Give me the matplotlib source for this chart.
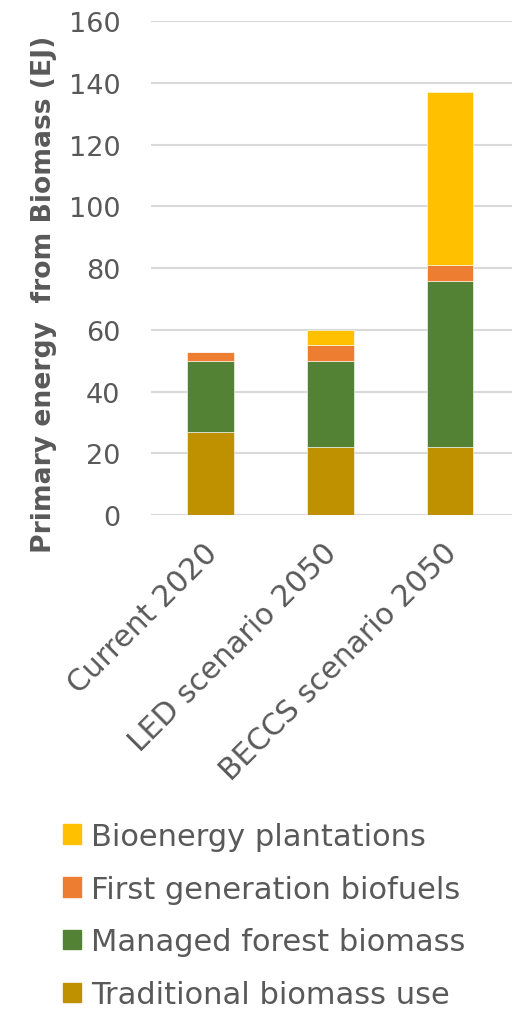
import matplotlib.pyplot as plt
import matplotlib.transforms as mtransforms
import numpy as np
from matplotlib.patches import Patch

# stacked primary energy from biomass, EJ
scenarios = ["Current 2020", "LED scenario 2050", "BECCS scenario 2050"]
traditional = [27, 22, 22]
managed_forest = [23, 28, 54]
first_gen = [3, 5, 5]
plantations = [0, 5, 56]

series_names = ["Traditional biomass use", "Managed forest biomass",
                "First generation biofuels", "Bioenergy plantations"]
series_colors = ["#BF9000", "#548235", "#ED7D31", "#FFC000"]
yticks = [0, 20, 40, 60, 80, 100, 120, 140, 160]

grey = "#595959"
plt.rcParams["font.family"] = ["DejaVu Sans"]

fig = plt.figure(figsize=(5.12, 10.12), dpi=100)
ax = fig.add_axes([0.295, 0.490, 0.705, 0.488])

x = np.arange(len(scenarios))
bottom = np.zeros(len(scenarios))
for vals, name, col in zip([traditional, managed_forest, first_gen, plantations],
                           series_names, series_colors):
    ax.bar(x, vals, width=0.39, bottom=bottom, color=col, label=name,
           edgecolor="white", linewidth=0.4, zorder=3)
    bottom += np.array(vals)

ax.set_ylim(0, 160)
ax.set_xlim(-0.5, 2.52)
ax.set_yticks(yticks)
ax.set_yticklabels([str(v) for v in yticks], fontsize=19.5, color=grey)
ax.set_xticks(x)
ax.set_xticklabels(scenarios, rotation=45, ha="right", rotation_mode="anchor",
                   fontsize=21.5, color=grey)
ax.tick_params(length=0)
ax.tick_params(axis="x", pad=16)
ax.tick_params(axis="y", pad=22)
ax.grid(axis="y", color="#D9D9D9", linewidth=1.5, zorder=0)
for s in ax.spines.values():
    s.set_visible(False)

# nudge the slanted category labels a little to the left
shift = mtransforms.ScaledTranslation(-8 / 100, 0, fig.dpi_scale_trans)
for lbl in ax.get_xticklabels():
    lbl.set_transform(lbl.get_transform() + shift)

fig.text(0.086, 0.709, "Primary energy  from Biomass (EJ)", rotation=90,
         ha="center", va="center", fontsize=19.2, fontweight="bold", color=grey)

handles = [Patch(color=c) for c in series_colors][::-1]
labels = series_names[::-1]
fig.legend(handles, labels, loc="upper left", bbox_to_anchor=(0.123, 0.187),
           frameon=False, fontsize=22, labelcolor=grey, handlelength=0.6,
           handleheight=0.6, handletextpad=0.32, labelspacing=0.78,
           borderpad=0, borderaxespad=0)

fig.savefig("out.png", dpi=100)
